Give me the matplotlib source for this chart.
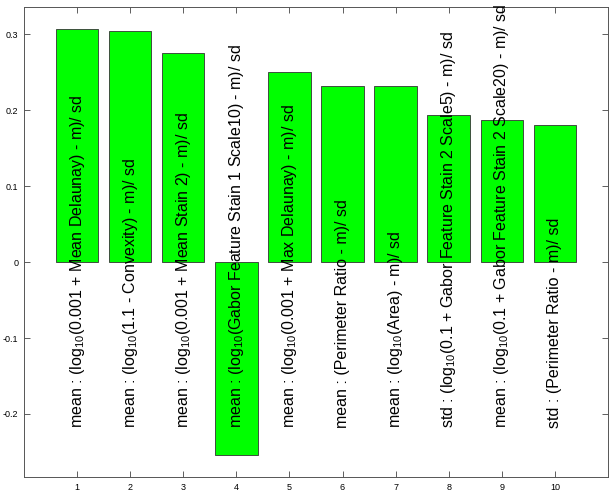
import numpy as np
import matplotlib.pyplot as plt

plt.rcParams['font.family'] = ['Liberation Sans', 'DejaVu Sans']
plt.rcParams['mathtext.default'] = 'regular'

positions = [1, 2, 3, 4, 5, 6, 7, 8, 9, 10]
values = [0.3066, 0.3050, 0.2760, -0.2543, 0.2500, 0.2325, 0.2320, 0.1938, 0.1868, 0.1810]
labels = [
    'mean : (log$_{10}$(0.001 + Mean Delaunay) - m)/ sd',
    'mean : (log$_{10}$(1.1 - Convexity) - m)/ sd',
    'mean : (log$_{10}$(0.001 + Mean Stain 2) - m)/ sd',
    'mean : (log$_{10}$(Gabor Feature Stain 1 Scale10) - m)/ sd',
    'mean : (log$_{10}$(0.001 + Max Delaunay) - m)/ sd',
    'mean : (Perimeter Ratio - m)/ sd',
    'mean : (log$_{10}$(Area) - m)/ sd',
    'std : (log$_{10}$(0.1 + Gabor Feature Stain 2 Scale5) - m)/ sd',
    'mean : (log$_{10}$(0.1 + Gabor Feature Stain 2 Scale20) - m)/ sd',
    'std : (Perimeter Ratio - m)/ sd',
]
y_ticks = [-0.2, -0.1, 0, 0.1, 0.2, 0.3]
y_tick_labels = ['-0.2', '-0.1', '0', '0.1', '0.2', '0.3']

fig = plt.figure(figsize=(6.15, 4.93), dpi=100)
ax = fig.add_axes([0.039, 0.0325, 0.9496, 0.9533])

ax.bar(positions, values, width=0.8, color='#00ff00', edgecolor='#333333', linewidth=0.6)

for x, lab in zip(positions, labels):
    ax.text(x, -0.218, lab, rotation=90, ha='left', va='center',
            fontsize=11.5, rotation_mode='anchor', clip_on=False)

ax.set_xlim(0, 11)
ax.set_ylim(-0.283, 0.336)
ax.set_xticks(positions)
ax.set_yticks(y_ticks)
ax.set_yticklabels(y_tick_labels)
ax.tick_params(direction='in', top=True, right=True, length=4, width=0.6,
               labelsize=6.5, color='#444444', pad=4)
for s in ax.spines.values():
    s.set_color('#555555')
    s.set_linewidth(0.7)

fig.savefig('out.png', dpi=100)
